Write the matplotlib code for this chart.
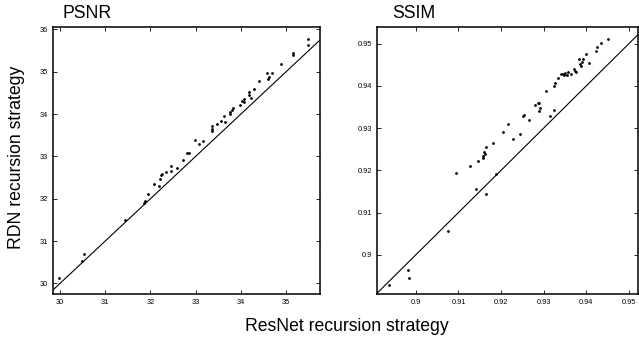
import matplotlib
matplotlib.use("Agg")
import matplotlib.pyplot as plt
import numpy as np

plt.rcParams["font.family"] = ["Liberation Sans", "DejaVu Sans"]

# PSNR: ResNet recursion (x) vs RDN recursion (y)
psnr_resnet = [29.98, 30.48, 30.54, 31.44, 31.86, 31.88, 31.94, 32.08, 32.20, 32.21,
               32.24, 32.26, 32.35, 32.46, 32.46, 32.58, 32.71, 32.82, 32.85, 32.99,
               33.08, 33.16, 33.36, 33.36, 33.36, 33.47, 33.56, 33.62, 33.65, 33.75,
               33.76, 33.80, 33.83, 33.98, 34.03, 34.07, 34.08, 34.17, 34.18, 34.23,
               34.29, 34.39, 34.57, 34.59, 34.63, 34.68, 34.88, 35.15, 35.15, 35.49,
               35.49]
psnr_rdn = [30.14, 30.53, 30.69, 31.50, 31.91, 31.94, 32.11, 32.34, 32.31, 32.46,
            32.56, 32.58, 32.63, 32.77, 32.65, 32.73, 32.91, 33.09, 33.09, 33.39,
            33.30, 33.36, 33.73, 33.65, 33.60, 33.76, 33.84, 33.96, 33.81, 34.00,
            34.04, 34.10, 34.14, 34.21, 34.32, 34.36, 34.28, 34.44, 34.53, 34.38,
            34.59, 34.78, 34.96, 34.84, 34.87, 34.96, 35.18, 35.45, 35.40, 35.78,
            35.62]

# SSIM: ResNet recursion (x) vs RDN recursion (y)
ssim_resnet = [0.8937, 0.8981, 0.8983, 0.9075, 0.9094, 0.9141, 0.9164, 0.9128, 0.9145,
               0.9157, 0.9158, 0.9162, 0.9160, 0.9164, 0.9182, 0.9188, 0.9205, 0.9216,
               0.9228, 0.9244, 0.9251, 0.9255, 0.9266, 0.9280, 0.9287, 0.9290, 0.9291,
               0.9288, 0.9305, 0.9316, 0.9324, 0.9325, 0.9326, 0.9334, 0.9340, 0.9345,
               0.9348, 0.9351, 0.9354, 0.9358, 0.9365, 0.9371, 0.9373, 0.9375, 0.9382,
               0.9385, 0.9387, 0.9390, 0.9393, 0.9400, 0.9407, 0.9422, 0.9426, 0.9434,
               0.9451]
ssim_rdn = [0.8929, 0.8965, 0.8944, 0.9056, 0.9194, 0.9157, 0.9145, 0.9211, 0.9221,
            0.9229, 0.9234, 0.9238, 0.9244, 0.9255, 0.9264, 0.9192, 0.9291, 0.9311,
            0.9275, 0.9286, 0.9329, 0.9332, 0.9320, 0.9354, 0.9360, 0.9360, 0.9347,
            0.9340, 0.9389, 0.9328, 0.9342, 0.9401, 0.9407, 0.9418, 0.9429, 0.9428,
            0.9425, 0.9431, 0.9427, 0.9433, 0.9428, 0.9440, 0.9436, 0.9434, 0.9465,
            0.9453, 0.9447, 0.9457, 0.9464, 0.9475, 0.9455, 0.9483, 0.9493, 0.9502,
            0.9512]

psnr_xticks = [30, 31, 32, 33, 34, 35]
psnr_yticks = [30, 31, 32, 33, 34, 35, 36]
ssim_ticks = [0.9, 0.91, 0.92, 0.93, 0.94, 0.95]
ssim_ticklabels = ["0.9", "0.91", "0.92", "0.93", "0.94", "0.95"]

fig = plt.figure(figsize=(6.39, 3.39), dpi=100)
ax1 = fig.add_axes([0.0825, 0.1327, 0.4183, 0.7868])
ax2 = fig.add_axes([0.5895, 0.1327, 0.4085, 0.7868])


def style(ax):
    for s in ax.spines.values():
        s.set_linewidth(1.1)
    ax.tick_params(direction="in", length=3, width=0.6, labelsize=5.3,
                   top=True, right=True, pad=3.5)


ax1.scatter(psnr_resnet, psnr_rdn, s=4, c="black", linewidths=0, zorder=3)
ax1.set_xlim(29.84, 35.75)
ax1.set_ylim(29.75, 36.05)
ax1.plot([29.0, 37.0], [29.0, 37.0], color="black", lw=0.8)
ax1.set_xticks(psnr_xticks)
ax1.set_yticks(psnr_yticks)
style(ax1)

ax2.scatter(ssim_resnet, ssim_rdn, s=4, c="black", linewidths=0, zorder=3)
ax2.set_xlim(0.8908, 0.9521)
ax2.set_ylim(0.8907, 0.9539)
ax2.plot([0.88, 0.96], [0.88, 0.96], color="black", lw=0.8)
ax2.set_xticks(ssim_ticks)
ax2.set_xticklabels(ssim_ticklabels)
ax2.set_yticks(ssim_ticks)
ax2.set_yticklabels(ssim_ticklabels)
style(ax2)

fig.text(0.0975, 0.946, "PSNR", fontsize=12.7, va="baseline", ha="left")
fig.text(0.6145, 0.946, "SSIM", fontsize=12.7, va="baseline", ha="left")
fig.text(0.026, 0.535, "RDN recursion strategy", fontsize=12.7, rotation=90,
         va="center", ha="center")
fig.text(0.543, 0.0245, "ResNet recursion strategy", fontsize=12.7,
         va="baseline", ha="center")

fig.savefig("out.png", dpi=100)
